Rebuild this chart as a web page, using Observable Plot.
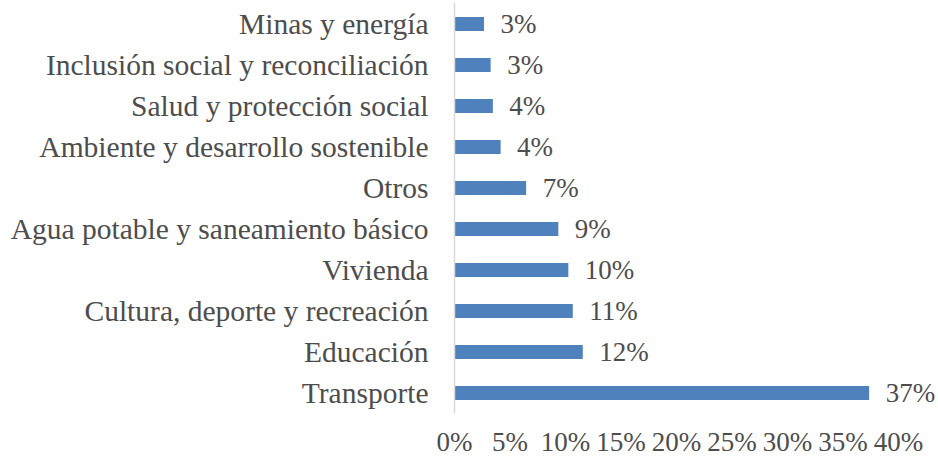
<!DOCTYPE html>
<html><head><meta charset="utf-8">
<script src="https://cdn.jsdelivr.net/npm/d3@7"></script>
<script src="https://cdn.jsdelivr.net/npm/@observablehq/plot@0.6"></script>
<style>
html,body{margin:0;padding:0;background:#fff;}
</style>
</head><body><div id="chart"></div>
<script>
const categories = ["Minas y energía","Inclusión social y reconciliación","Salud y protección social","Ambiente y desarrollo sostenible","Otros","Agua potable y saneamiento básico","Vivienda","Cultura, deporte y recreación","Educación","Transporte"];
const values = [2.7, 3.3, 3.5, 4.2, 6.5, 9.4, 10.3, 10.7, 11.6, 37.4];
const xTicks = [0,5,10,15,20,25,30,35,40];
const data = categories.map((c,i)=>({cat:c, v:values[i]}));
const font = "Liberation Serif";
const chart = Plot.plot({
  width: 938, height: 460,
  marginLeft: 454, marginRight: 40, marginTop: 3, marginBottom: 47,
  style: {fontFamily: font, fontSize: "27px", color: "#4d4d4d", background: "#fff"},
  x: {domain:[0,40], label: null},
  y: {domain: categories, paddingInner: 0.66, paddingOuter: 0.33, label: null},
  marks: [
    Plot.barX(data, {x: "v", y: "cat", fill: "#4f81bd"}),
    Plot.ruleX([0], {stroke: "#d9d9d9", strokeWidth: 1.5}),
    Plot.axisX({ticks: xTicks, tickFormat: d => d + "%", tickSize: 0, tickPadding: 18, fontSize: 27, fill: "#4d4d4d", label: null}),
    Plot.axisY({tickSize: 0, tickPadding: 26, fontSize: 29.5, fill: "#4d4d4d", label: null}),
    Plot.text(data, {x: "v", y: "cat", text: d => Math.round(d.v) + "%", dx: 16, textAnchor: "start", fill: "#4d4d4d", fontSize: 27})
  ]
});
document.getElementById("chart").appendChild(chart);
</script>
</body></html>
